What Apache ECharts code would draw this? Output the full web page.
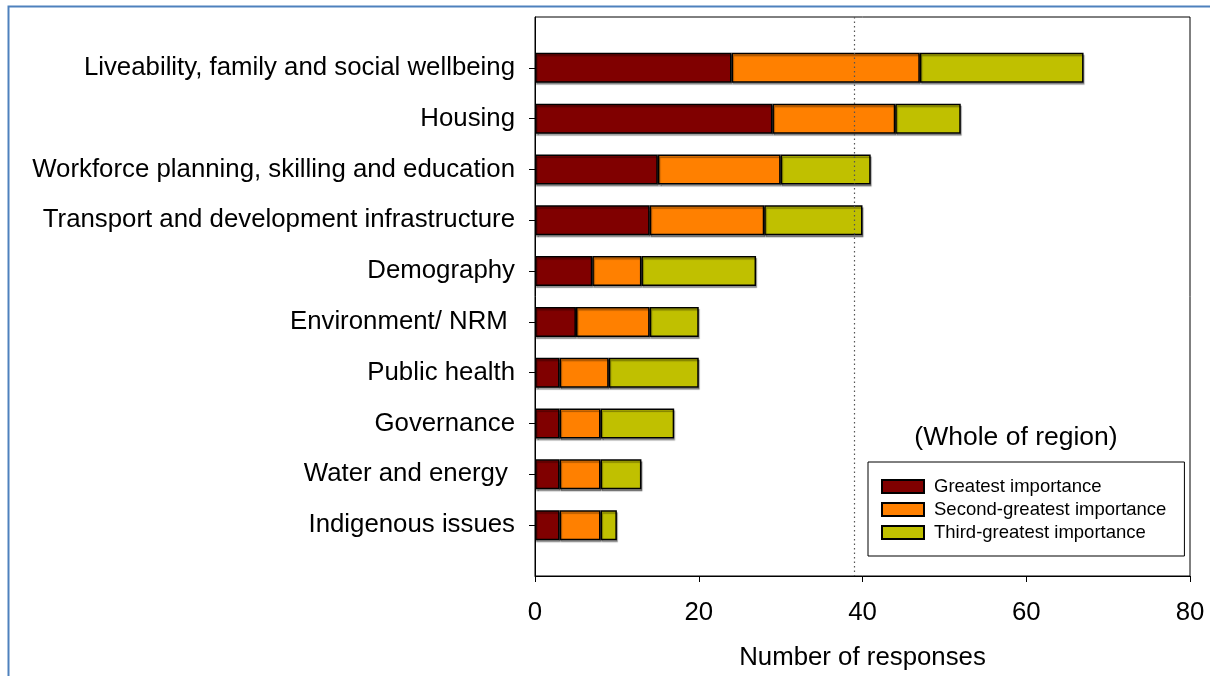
<!DOCTYPE html>
<html>
<head>
<meta charset="utf-8">
<script src="https://cdn.jsdelivr.net/npm/echarts@6/dist/echarts.min.js"></script>
<style>
html,body{margin:0;padding:0;background:#fff;}
#chart{width:1210px;height:676px;}
</style>
</head>
<body>
<div id="chart"></div>
<script>
// Data
var categories = ['Liveability, family and social wellbeing','Housing','Workforce planning, skilling and education','Transport and development infrastructure','Demography','Environment/ NRM ','Public health','Governance','Water and energy ','Indigenous issues'];
var greatest = [24, 29, 15, 14, 7, 5, 3, 3, 3, 3];
var secondGreatest = [23, 15, 15, 14, 6, 9, 6, 5, 5, 5];
var thirdGreatest = [20, 8, 11, 12, 14, 6, 11, 9, 5, 2];
var seriesNames = ['Greatest importance','Second-greatest importance','Third-greatest importance'];
var xTicks = [0, 20, 40, 60, 80];
var averageLine = 39;

// pad categories (empty slot above and below)
var cats = [''].concat(categories).concat(['']);
function pad(a){ return [null].concat(a).concat([null]); }

var FONT = '"Liberation Sans", Arial, sans-serif';
var FS = 25.8;
var barStyle = function(c){ return {color:c, borderColor:'#000', borderWidth:1.5, shadowColor:'rgba(0,0,0,0.35)', shadowOffsetX:1, shadowOffsetY:2, shadowBlur:1}; };

var chart = echarts.init(document.getElementById('chart'), null, {renderer:'canvas'});
chart.setOption({
  animation:false,
  backgroundColor:'#fff',
  graphic:[
    {type:'rect', left:6, top:4, shape:{width:1400, height:900}, style:{fill:'none', stroke:'#4F81BD', lineWidth:2}, z:-10},
    {type:'text', x:1016, y:438, style:{text:'(Whole of region)', font:'26.5px '+FONT, fill:'#000', textAlign:'center', textVerticalAlign:'middle'}}
  ],
  grid:{left:535, right:20, top:17, bottom:98, show:true, borderColor:'#000', borderWidth:1, backgroundColor:'#fff'},
  legend:{
    orient:'vertical', left:868, top:462,
    padding:[15,18,14,13], itemGap:4, itemWidth:42, itemHeight:13,
    borderColor:'#000', borderWidth:1, backgroundColor:'#fff',
    textStyle:{fontFamily:FONT, fontSize:18.5, color:'#000', padding:[0,0,0,5]},
    icon:'rect',
    data:seriesNames
  },
  xAxis:{
    type:'value', min:0, max:80, interval:20,
    axisLine:{show:true, lineStyle:{color:'#000', width:1}},
    axisTick:{show:true, length:6, lineStyle:{color:'#000'}},
    splitLine:{show:false},
    axisLabel:{fontFamily:FONT, fontSize:FS, color:'#000', margin:24,
      formatter:function(v){ return xTicks.indexOf(v) >= 0 ? String(v) : ''; }},
    name:'Number of responses', nameLocation:'middle', nameGap:69,
    nameTextStyle:{fontFamily:FONT, fontSize:FS, color:'#000'}
  },
  yAxis:{
    type:'category', data:cats, inverse:true, boundaryGap:false,
    axisLine:{show:true, lineStyle:{color:'#000', width:1}},
    axisTick:{show:true, length:6, lineStyle:{color:'#000'}, interval:function(i, v){ return v !== ''; }},
    axisLabel:{fontFamily:FONT, fontSize:FS, color:'#000', margin:20, interval:0, padding:[0,0,4,0]},
    splitLine:{show:false}
  },
  series:[
    {name:seriesNames[0], type:'bar', stack:'s', barWidth:30, data:pad(greatest), itemStyle:barStyle('#800000'),
     markLine:{silent:true, symbol:'none', label:{show:false}, lineStyle:{color:'#555', type:[1.5,3], width:1.2},
       data:[{xAxis:averageLine}]}},
    {name:seriesNames[1], type:'bar', stack:'s', barWidth:30, data:pad(secondGreatest), itemStyle:barStyle('#FF8000')},
    {name:seriesNames[2], type:'bar', stack:'s', barWidth:30, data:pad(thirdGreatest), itemStyle:barStyle('#C0C000')}
  ]
});
</script>
</body>
</html>
